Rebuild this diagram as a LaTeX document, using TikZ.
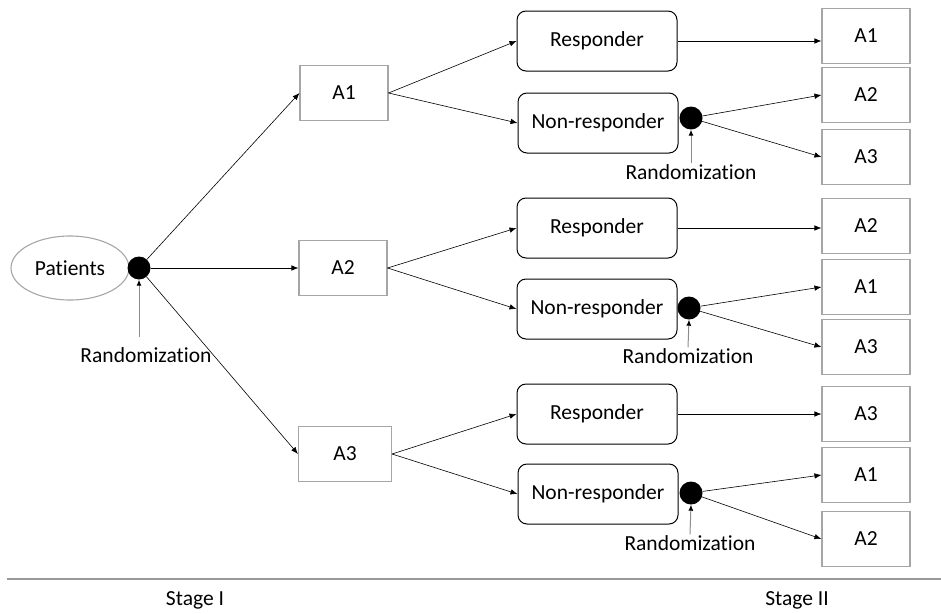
\documentclass[tikz,border=0pt]{standalone}
\usepackage{fontspec}
\setmainfont{Carlito}[Ligatures=NoCommon]
\usetikzlibrary{arrows.meta,shapes.geometric}
\begin{document}
\begin{tikzpicture}[x=1pt,y=-1pt,
  every node/.style={font=\fontsize{21.5}{25}\selectfont},
  gbox/.style={draw=black!35, line width=1.1pt, minimum width=88pt, minimum height=55pt, inner sep=0pt},
  rbox/.style={draw=black, rounded corners=9pt, line width=1pt, minimum width=160pt, minimum height=60pt, inner sep=0pt},
  bdot/.style={circle, fill=black, minimum size=23pt, inner sep=0pt},
  arr/.style={-{Latex[length=7pt,width=5.5pt]}, line width=0.6pt},
  rarr/.style={draw=black!45, line width=1pt, -{Latex[length=6pt,width=5pt,color=black]}},
  lbl/.style={inner sep=1pt}
]
\useasboundingbox (0,0) rectangle (941,613);
% left part
\node[ellipse, draw=black!35, line width=1.1pt, minimum width=118pt, minimum height=64pt] (pat) at (70,268) {Patients};
\node[bdot] (d0) at (139,268) {};
\node[lbl] (r0) at (146,355) {Randomization};
\coordinate (r0t) at (139,337);
\draw[rarr] (r0t) -- (d0.south);

\node[gbox] (a1) at (344,93) {A1};
\node[gbox] (a2) at (343,268) {A2};
\node[gbox, minimum width=93pt] (a3) at (345,454) {A3};

\draw[arr] (d0) -- (a1.west);
\draw[arr] (d0) -- (a2.west);
\draw[arr] (d0) -- (a3.west);

% group 1
\node[rbox] (re1) at (597,41) {Responder};
\node[rbox] (nr1) at (598,123) {Non-responder};
\node[bdot] (d1) at (691,118) {};
\node[lbl] (r1) at (691,172) {Randomization};
\node[gbox] (b11) at (866,36) {A1};
\node[gbox] (b12) at (866,95) {A2};
\node[gbox] (b13) at (866,157) {A3};
\draw[arr] (a1.east) -- (re1.west);
\draw[arr] (a1.east) -- (nr1.west);
\draw[arr] (re1.east) -- (re1.east -| b11.west);
\draw[arr] (d1) -- (b12.west);
\draw[arr] (d1) -- (b13.west);
\draw[rarr] (r1.north) -- (d1.south);

% group 2
\node[rbox] (re2) at (597,228) {Responder};
\node[rbox] (nr2) at (597,309) {Non-responder};
\node[bdot] (d2) at (689,308) {};
\node[lbl] (r2) at (688,356) {Randomization};
\node[gbox] (b21) at (866,226) {A2};
\node[gbox] (b22) at (866,287) {A1};
\node[gbox] (b23) at (866,347) {A3};
\draw[arr] (a2.east) -- (re2.west);
\draw[arr] (a2.east) -- (nr2.west);
\draw[arr] (re2.east) -- (re2.east -| b21.west);
\draw[arr] (d2) -- (b22.west);
\draw[arr] (d2) -- (b23.west);
\draw[rarr] (r2.north) -- (d2.south);

% group 3
\node[rbox] (re3) at (597,414) {Responder};
\node[rbox] (nr3) at (598,494) {Non-responder};
\node[bdot] (d3) at (691,493) {};
\node[lbl] (r3) at (690,543) {Randomization};
\node[gbox] (b31) at (866,414) {A3};
\node[gbox] (b32) at (866,475) {A1};
\node[gbox] (b33) at (866,539) {A2};
\draw[arr] (a3.east) -- (re3.west);
\draw[arr] (a3.east) -- (nr3.west);
\draw[arr] (re3.east) -- (re3.east -| b31.west);
\draw[arr] (d3) -- (b32.west);
\draw[arr] (d3) -- (b33.west);
\draw[rarr] (r3.north) -- (d3.south);

% stage line
\coordinate (sl) at (7,579);
\coordinate (sr) at (941,579);
\draw[black!40, line width=1.4pt] (sl) -- (sr);
\node (s1) at (195,600) {Stage I};
\node (s2) at (797,600) {Stage II};
\end{tikzpicture}
\end{document}
